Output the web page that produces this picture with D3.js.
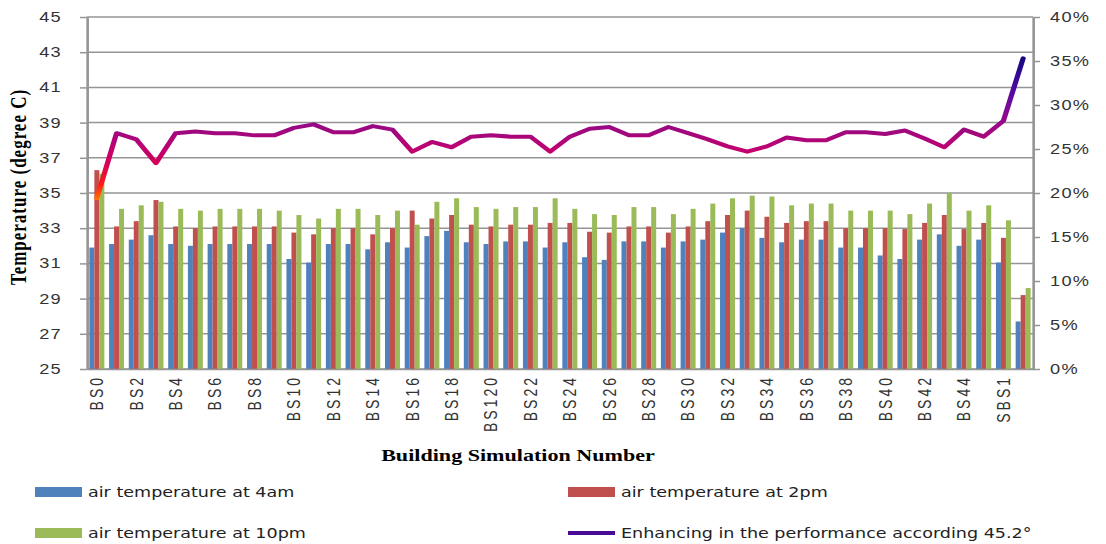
<!DOCTYPE html>
<html>
<head>
<meta charset="utf-8">
<script src="https://cdn.jsdelivr.net/npm/d3@7"></script>
<style>
  body { margin: 0; background: #fff; }
  svg { display: block; }
</style>
</head>
<body>
<div id="chart"></div>
<script>
// chart data
const categories = ["BS0", "BS1", "BS2", "BS3", "BS4", "BS5", "BS6", "BS7", "BS8", "BS9",
	"BS10", "BS11", "BS12", "BS13", "BS14", "BS15", "BS16", "BS17", "BS18", "BS19",
	"BS120", "BS21", "BS22", "BS23", "BS24", "BS25", "BS26", "BS27", "BS28", "BS29",
	"BS30", "BS31", "BS32", "BS33", "BS34", "BS35", "BS36", "BS37", "BS38", "BS39",
	"BS40", "BS41", "BS42", "BS43", "BS44", "BS45", "SBS1", "SBS2"];

const temp4am = [31.9, 32.1, 32.35, 32.6, 32.1, 32.0, 32.1, 32.1, 32.1, 32.1,
	31.25, 31.05, 32.1, 32.1, 31.8, 32.2, 31.9, 32.55, 32.85, 32.2,
	32.1, 32.25, 32.25, 31.9, 32.2, 31.35, 31.2, 32.25, 32.25, 31.9,
	32.25, 32.35, 32.75, 33.0, 32.45, 32.2, 32.35, 32.35, 31.9, 31.9,
	31.45, 31.25, 32.35, 32.65, 32.0, 32.35, 31.05, 27.7];

const temp2pm = [36.3, 33.1, 33.4, 34.6, 33.1, 33.0, 33.1, 33.1, 33.1, 33.1,
	32.75, 32.65, 33.0, 33.0, 32.65, 33.0, 34.0, 33.55, 33.75, 33.2,
	33.1, 33.2, 33.2, 33.3, 33.3, 32.8, 32.75, 33.1, 33.1, 32.75,
	33.1, 33.4, 33.75, 34.0, 33.65, 33.3, 33.4, 33.4, 33.0, 33.0,
	33.0, 32.95, 33.3, 33.75, 32.95, 33.3, 32.45, 29.2];

const temp10pm = [36.1, 34.1, 34.3, 34.5, 34.1, 34.0, 34.1, 34.1, 34.1, 34.0,
	33.75, 33.55, 34.1, 34.1, 33.75, 34.0, 33.2, 34.5, 34.7, 34.2,
	34.1, 34.2, 34.2, 34.7, 34.1, 33.8, 33.75, 34.2, 34.2, 33.8,
	34.1, 34.4, 34.7, 34.85, 34.8, 34.3, 34.4, 34.4, 34.0, 34.0,
	34.0, 33.8, 34.4, 35.0, 34.0, 34.3, 33.45, 29.6];

// percent values for the line (right axis)
const enhancing = [19.4, 26.8, 26.1, 23.4, 26.8, 27.0, 26.8, 26.8, 26.55, 26.55,
	27.4, 27.8, 26.9, 26.9, 27.6, 27.2, 24.7, 25.8, 25.2, 26.4,
	26.55, 26.4, 26.4, 24.7, 26.4, 27.3, 27.5, 26.55, 26.55, 27.5,
	26.8, 26.1, 25.3, 24.7, 25.3, 26.3, 26.0, 26.0, 26.9, 26.9,
	26.7, 27.1, 26.2, 25.2, 27.2, 26.4, 28.2, 35.3];

const leftTicks = [25, 27, 29, 31, 33, 35, 37, 39, 41, 43, 45];
const rightTicks = [0, 5, 10, 15, 20, 25, 30, 35, 40];

const seriesNames = ["air temperature at 4am", "air temperature at 2pm", "air temperature at 10pm"];
const lineName = "Enhancing in the performance according 45.2°";
const COLORS = ["#4f81bd", "#c0504d", "#9bbb59"];

// the original picture is stretched sideways, so draw in a narrower box and stretch it
const S = 1.3;
const chartW = 1106, chartH = 544;
const plotLeft = 87, plotRight = 1033, plotTop = 17, plotBottom = 369;

const svg = d3.select("#chart")
	.append("svg")
	.attr("width", chartW)
	.attr("height", chartH)
	.attr("viewBox", `0 0 ${chartW / S} ${chartH}`)
	.attr("preserveAspectRatio", "none")
	.style("font-family", "'DejaVu Sans', Verdana, sans-serif");

const x0 = d3.scaleBand()
	.domain(categories)
	.range([plotLeft / S, plotRight / S])
	.paddingInner(0.24)
	.paddingOuter(0.12);

const x1 = d3.scaleBand()
	.domain([0, 1, 2])
	.range([0, x0.bandwidth()]);

const y = d3.scaleLinear().domain([25, 45]).range([plotBottom, plotTop]);
const yR = d3.scaleLinear().domain([0, 40]).range([plotBottom, plotTop]);

const gridColor = "#959595";

// horizontal gridlines
svg.append("g")
	.selectAll("line")
	.data(leftTicks)
	.enter()
	.append("line")
	.attr("x1", plotLeft / S)
	.attr("x2", plotRight / S)
	.attr("y1", d => y(d))
	.attr("y2", d => y(d))
	.attr("stroke", gridColor)
	.attr("stroke-width", 1.5);

// bars
const allSeries = [temp4am, temp2pm, temp10pm];
const groups = svg.append("g")
	.selectAll("g")
	.data(categories)
	.enter()
	.append("g")
	.attr("transform", d => `translate(${x0(d)},0)`);

groups.selectAll("rect")
	.data((d, i) => allSeries.map((s, k) => ({ k: k, v: s[i] })))
	.enter()
	.append("rect")
	.attr("x", d => x1(d.k))
	.attr("width", x1.bandwidth())
	.attr("y", d => y(d.v))
	.attr("height", d => y(25) - y(d.v))
	.attr("fill", d => COLORS[d.k]);

// left axis
const leftAxis = svg.append("g")
	.attr("transform", `translate(${plotLeft / S},0)`)
	.call(d3.axisLeft(y).tickValues(leftTicks).tickSize(7 / S).tickSizeOuter(0).tickPadding(18 / S));

// right axis
const rightAxis = svg.append("g")
	.attr("transform", `translate(${plotRight / S},0)`)
	.call(d3.axisRight(yR).tickValues(rightTicks).tickSize(7 / S).tickSizeOuter(0).tickPadding(10 / S)
		.tickFormat(d => d + "%"));

[leftAxis, rightAxis].forEach(function(a) {
	a.select(".domain").attr("stroke", gridColor).attr("stroke-width", 2);
	a.selectAll(".tick line").attr("stroke", gridColor).attr("stroke-width", 1.5);
	a.selectAll("text")
		.attr("fill", "#333")
		.style("font-size", "14px")
		.style("letter-spacing", "1px");
});

// bottom axis, every second label
const bottomAxis = svg.append("g")
	.attr("transform", `translate(0,${plotBottom})`)
	.call(d3.axisBottom(x0).tickValues(categories.filter((c, i) => i % 2 == 0)).tickSize(0).tickSizeOuter(0));

bottomAxis.select(".domain").attr("stroke", gridColor).attr("stroke-width", 1.5);
bottomAxis.selectAll("text")
	.attr("transform", "rotate(-90)")
	.attr("x", -6)
	.attr("y", 0)
	.attr("dy", "0.35em")
	.attr("text-anchor", "end")
	.attr("fill", "#333")
	.style("font-size", "14px")
	.style("letter-spacing", "3px");

// gradient for the line, red at the bottom, blue at the top
const defs = svg.append("defs");
const grad = defs.append("linearGradient")
	.attr("id", "lineGrad")
	.attr("gradientUnits", "userSpaceOnUse")
	.attr("x1", 0).attr("x2", 0)
	.attr("y1", yR(19)).attr("y2", yR(35.5));

[[0, "#ff8000"], [0.12, "#ff1a1a"], [0.27, "#d4005a"], [0.36, "#c00070"],
	[0.48, "#a0087e"], [0.61, "#880a92"], [0.79, "#4a0aa0"], [1, "#14087e"]]
	.forEach(function(s) {
		grad.append("stop").attr("offset", s[0]).attr("stop-color", s[1]);
	});

const line = d3.line()
	.x((d, i) => x0(categories[i]) + x0.bandwidth() / 2)
	.y(d => yR(d));

svg.append("path")
	.datum(enhancing)
	.attr("d", line)
	.attr("fill", "none")
	.attr("stroke", "url(#lineGrad)")
	.attr("stroke-width", 4)
	.attr("stroke-linejoin", "round")
	.attr("stroke-linecap", "round");

// axis titles
svg.append("text")
	.attr("x", 518 / S)
	.attr("y", 461)
	.attr("text-anchor", "middle")
	.style("font-family", "'Liberation Serif', 'Times New Roman', serif")
	.style("font-weight", "bold")
	.style("font-size", "17px")
	.text("Building Simulation Number");

svg.append("text")
	.attr("transform", `translate(${26 / S},187) rotate(-90)`)
	.attr("text-anchor", "middle")
	.style("font-family", "'Liberation Serif', 'Times New Roman', serif")
	.style("font-weight", "bold")
	.style("font-size", "17px")
	.style("letter-spacing", "1px")
	.text("Temperature (degree C)");

// legend
const legendItems = [
	{ name: seriesNames[0], color: COLORS[0], x: 35, y: 492, kind: "rect" },
	{ name: seriesNames[1], color: COLORS[1], x: 568, y: 492, kind: "rect" },
	{ name: seriesNames[2], color: COLORS[2], x: 35, y: 533, kind: "rect" },
	{ name: lineName, color: "#4b0a94", x: 568, y: 533, kind: "line" }
];

const legend = svg.append("g")
	.selectAll("g")
	.data(legendItems)
	.enter()
	.append("g");

legend.filter(d => d.kind == "rect")
	.append("rect")
	.attr("x", d => d.x / S)
	.attr("y", d => d.y - 5)
	.attr("width", 47 / S)
	.attr("height", 10)
	.attr("fill", d => d.color);

legend.filter(d => d.kind == "line")
	.append("line")
	.attr("x1", d => d.x / S)
	.attr("x2", d => (d.x + 47) / S)
	.attr("y1", d => d.y)
	.attr("y2", d => d.y)
	.attr("stroke", d => d.color)
	.attr("stroke-width", 4);

legend.append("text")
	.attr("x", d => (d.x + 53) / S)
	.attr("y", d => d.y + 5)
	.attr("fill", "#222")
	.style("font-size", "13.5px")
	.text(d => d.name);
</script>
</body>
</html>
